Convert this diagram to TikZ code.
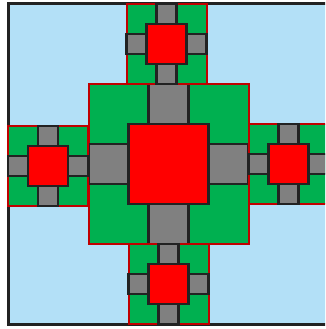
\documentclass[tikz,border=0pt]{standalone}
\definecolor{skyfill}{HTML}{B3E0F7}
\definecolor{greenfill}{HTML}{00B050}
\definecolor{redfill}{HTML}{FF0000}
\definecolor{redline}{HTML}{C00000}
\definecolor{grayfill}{HTML}{808080}
\definecolor{darkline}{HTML}{222222}
\tikzset{
  framebox/.style={fill=skyfill,draw=darkline,line width=3pt},
  greenbox/.style={fill=greenfill,draw=redline,line width=2pt},
  graybox/.style={fill=grayfill,draw=darkline,line width=2.3pt},
  redbox/.style={fill=redfill,draw=darkline,line width=2.3pt},
}
\newcommand\motif[3]{%
  \filldraw[greenbox] ({#1-#3},{#2-#3}) rectangle ({#1+#3},{#2+#3});
  \filldraw[graybox] ({#1-#3/4},{#2-#3}) rectangle ({#1+#3/4},{#2-#3/2});
  \filldraw[graybox] ({#1-#3/4},{#2+#3/2}) rectangle ({#1+#3/4},{#2+#3});
  \filldraw[graybox] ({#1-#3},{#2-#3/4}) rectangle ({#1-#3/2},{#2+#3/4});
  \filldraw[graybox] ({#1+#3/2},{#2-#3/4}) rectangle ({#1+#3},{#2+#3/4});
  \filldraw[redbox] ({#1-#3/2},{#2-#3/2}) rectangle ({#1+#3/2},{#2+#3/2});
}
\begin{document}
\begin{tikzpicture}[x=1pt,y=-1pt]
\useasboundingbox (0,0) rectangle (325,329);
\clip (0,0) rectangle (325,329);
\filldraw[framebox] (8,4) rectangle (328,324);
\motif{168.5}{164}{80}
\motif{166.5}{44}{40}
\motif{168.5}{284}{40}
\motif{48}{166}{40}
\motif{288.5}{164}{40}
\end{tikzpicture}
\end{document}
